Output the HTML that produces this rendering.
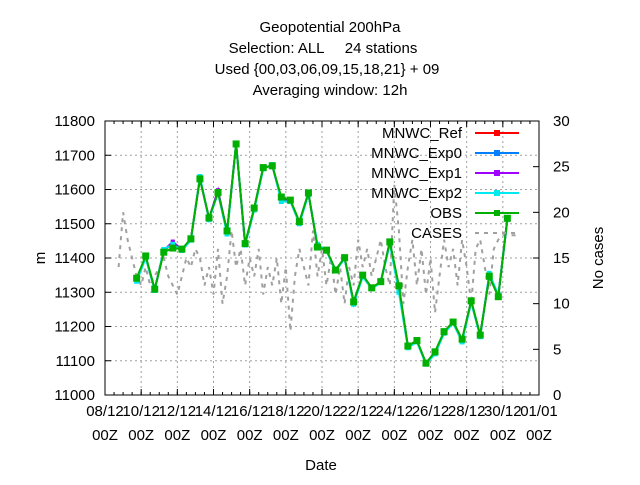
<!DOCTYPE html>
<html><head><meta charset="utf-8"><style>
body{margin:0;background:#fff;}
svg text{font-family:"Liberation Sans",sans-serif;font-size:15px;fill:#000;white-space:pre;}
</style></head><body>
<svg id="chart" width="640" height="480" xmlns="http://www.w3.org/2000/svg">
<g>
<text x="330" y="32" text-anchor="middle">Geopotential 200hPa</text>
<text x="323" y="53" text-anchor="middle" xml:space="preserve">Selection: ALL     24 stations</text>
<text x="327" y="74" text-anchor="middle">Used {00,03,06,09,15,18,21} + 09</text>
<text x="330" y="95" text-anchor="middle">Averaging window: 12h</text>
</g>
<g id="grid"></g><g id="axes"></g><g id="series"></g><g id="legend"></g>
<text x="45" y="258" text-anchor="middle" transform="rotate(-90 45 258)">m</text>
<text x="603" y="258" text-anchor="middle" transform="rotate(-90 603 258)">No cases</text>
<text x="321" y="470" text-anchor="middle">Date</text>
</svg>
<script>
const xTickLabels=["08/12","10/12","12/12","14/12","16/12","18/12","20/12","22/12","24/12","26/12","28/12","30/12","01/01"];
const yTicks=[11000,11100,11200,11300,11400,11500,11600,11700,11800];
const y2Ticks=[0,5,10,15,20,25,30];
const obs=[11341,11406,11309,11417,11429,11426,11456,11631,11517,11591,11479,11733,11442,11546,11664,11669,11578,11569,11506,11590,11432,11423,11365,11401,11272,11350,11313,11331,11447,11319,11143,11159,11093,11126,11185,11213,11163,11275,11175,11347,11287,11516];
const exp2=[11332,11400,11305,11425,11440,11422,11452,11638,11512,11590,11470,11735,11438,11540,11660,11673,11565,11565,11500,11585,11440,11420,11362,11398,11265,11345,11310,11328,11442,11300,11138,11155,11090,11120,11180,11210,11155,11270,11170,11355,11292,11512];
const exp1=[11335,11402,11307,11422,11448,11424,11454,11632,11515,11598,11474,11732,11440,11543,11663,11670,11570,11567,11503,11588,11436,11422,11364,11400,11270,11348,11312,11330,11445,11310,11140,11157,11092,11123,11183,11212,11160,11273,11173,11350,11290,11514];
const exp0=[11336,11403,11308,11421,11446,11425,11455,11633,11516,11594,11476,11733,11441,11544,11664,11670,11572,11568,11504,11589,11437,11422,11364,11400,11271,11349,11312,11330,11446,11312,11141,11158,11092,11124,11184,11212,11161,11274,11174,11349,11289,11515];
const ref=[11337,11404,11308,11420,11444,11425,11455,11633,11516,11593,11477,11733,11441,11545,11664,11670,11573,11568,11505,11589,11435,11422,11364,11400,11272,11349,11313,11330,11446,11314,11142,11158,11093,11125,11184,11213,11162,11274,11174,11348,11288,11515];
const cases=[14,20,17,15,13,12,14,12,13,14,15,13,12,11,13,15,14,16,15,12,14,11,16,10,13,18,14,16,12,15,13,16,11,14,12,15,10,14,7,13,16,14,12,18,13,16,12,15,11,14,10,14,12,17,14,16,13,15,17,14,12,23,18,10,14,17,12,16,11,15,9,13,17,14,16,12,17,14,10,16,17,14,11,16,17,17.5,17.5,17.5,17.5];
const NS="http://www.w3.org/2000/svg";
const L=105,R=539,T=121,B=395;
const xDay=d=>L+(R-L)*d/24;
const yv=v=>B-(v-11000)/800*(B-T);
const y2=v=>B-v/30*(B-T);
function mk(tag,attrs,parent){const e=document.createElementNS(NS,tag);for(const k in attrs)e.setAttribute(k,attrs[k]);parent.appendChild(e);return e;}
const grid=document.getElementById('grid'),axes=document.getElementById('axes'),ser=document.getElementById('series'),leg=document.getElementById('legend');
xTickLabels.forEach((t,i)=>{const x=xDay(i*2);
 if(i>0&&i<12){const g=mk('line',{x1:x,x2:x,y1:T,y2:B,stroke:'#a0a0a0','stroke-dasharray':'2,3'},grid);
 
 }
 const a=mk('text',{x:x,y:416,'text-anchor':'middle'},axes);a.textContent=t;
 
 
 const b=mk('text',{x:x,y:440,'text-anchor':'middle'},axes);b.textContent='00Z';
 
 
 mk('line',{x1:x,x2:x,y1:B,y2:B-6,stroke:'#000'},axes);mk('line',{x1:x,x2:x,y1:T,y2:T+6,stroke:'#000'},axes);
});
for(let h=0;h<=48;h++){const x=xDay(h/2);mk('line',{x1:x,x2:x,y1:B,y2:B-3,stroke:'#000'},axes);mk('line',{x1:x,x2:x,y1:T,y2:T+3,stroke:'#000'},axes);}
yTicks.forEach(v=>{const y=yv(v);
 if(v>11000&&v<11800){const g=mk('line',{x1:L,x2:R,y1:y,y2:y,stroke:'#a0a0a0','stroke-dasharray':'2,3'},grid);
 
 }
 mk('line',{x1:L,x2:L+6,y1:y,y2:y,stroke:'#000'},axes);
 const t=mk('text',{x:95,y:y+5,'text-anchor':'end'},axes);t.textContent=v;
 
 
});
y2Ticks.forEach(v=>{const y=y2(v);mk('line',{x1:R-6,x2:R,y1:y,y2:y,stroke:'#000'},axes);
 const t=mk('text',{x:553,y:y+5},axes);t.textContent=v;
 
 
});
const frame=mk('rect',{x:L,y:T,width:R-L,height:B-T,fill:'none',stroke:'#000','stroke-width':1},axes);


const cp=cases.map((v,i)=>xDay(0.75+i*0.25).toFixed(1)+','+y2(v).toFixed(1)).join(' ');
const cl=mk('polyline',{points:cp,fill:'none',stroke:'#a0a0a0','stroke-width':2,'stroke-dasharray':'4,5'},ser);


const series=[["MNWC_Ref",ref,'#ff0000',4],["MNWC_Exp0",exp0,'#0080ff',4],["MNWC_Exp1",exp1,'#a000ff',4],["MNWC_Exp2",exp2,'#00e8f0',5],["OBS",obs,'#00b000',7]];
series.forEach(([name,arr,col,ms])=>{
 const g=mk('g',{},ser);
 
 
 const pts=arr.map((v,i)=>xDay(1.75+i*0.5).toFixed(1)+','+yv(v).toFixed(1)).join(' ');
 mk('polyline',{points:pts,fill:'none',stroke:col,'stroke-width':2},g);
 arr.forEach((v,i)=>{const r=mk('rect',{x:xDay(1.75+i*0.5)-ms/2,y:yv(v)-ms/2,width:ms,height:ms,fill:col},g);
  
  });
});
const legItems=[["MNWC_Ref",'#ff0000'],["MNWC_Exp0",'#0080ff'],["MNWC_Exp1",'#a000ff'],["MNWC_Exp2",'#00e8f0'],["OBS",'#00b000'],["CASES",null]];
legItems.forEach(([n,c],i)=>{const y=133+i*20;
 const t=mk('text',{x:462,y:y+5,'text-anchor':'end'},leg);t.textContent=n;
 
 
 if(c){mk('line',{x1:475,x2:519,y1:y,y2:y,stroke:c,'stroke-width':2},leg);mk('rect',{x:494,y:y-3,width:6,height:6,fill:c},leg);}
 else{mk('line',{x1:475,x2:519,y1:y,y2:y,stroke:'#a0a0a0','stroke-width':2,'stroke-dasharray':'4,5'},leg);}
});
</script>
</body></html>
